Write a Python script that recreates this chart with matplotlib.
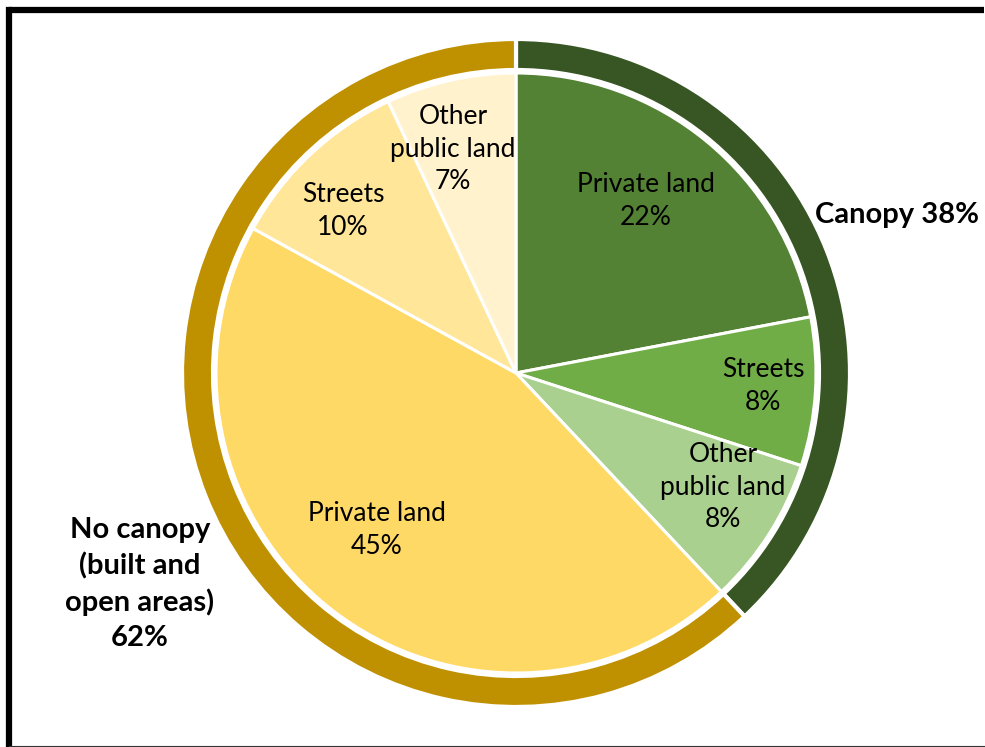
import matplotlib.pyplot as plt
from matplotlib.lines import Line2D

plt.rcParams.update(
    {
        "font.family": ["Lato", "DejaVu Sans"],
        "figure.dpi": 100,
        "savefig.dpi": 100,
    }
)

# outer ring: canopy vs no canopy
outer_labels = ["Canopy 38%", "No canopy\n(built and\nopen areas)\n62%"]
outer_values = [38, 62]
outer_colors = ["#375623", "#BF9000"]

# inner pie: land type within each group
inner_labels = [
    "Private land\n22%",
    "Streets\n8%",
    "Other\npublic land\n8%",
    "Private land\n45%",
    "Streets\n10%",
    "Other\npublic land\n7%",
]
inner_values = [22, 8, 8, 45, 10, 7]
inner_colors = ["#548235", "#70AD47", "#A9D08E", "#FFD966", "#FFE699", "#FFF2CC"]

W, H = 985, 747
fig = plt.figure(figsize=(W / 100, H / 100))
ax = fig.add_axes([0, 0, 1, 1])

center = (516, H - 373)

# outer ring
ax.pie(
    outer_values,
    colors=outer_colors,
    radius=334,
    center=center,
    startangle=90,
    counterclock=False,
    wedgeprops=dict(width=31, edgecolor="white", linewidth=3),
)
# inner pie
ax.pie(
    inner_values,
    colors=inner_colors,
    radius=300,
    center=center,
    startangle=90,
    counterclock=False,
    wedgeprops=dict(edgecolor="white", linewidth=2.2),
)
ax.set_xlim(0, W)
ax.set_ylim(0, H)
ax.set_aspect("auto")
ax.axis("off")

# inner labels (pixel positions from the top-left)
inner_pos = [(646, 201), (763, 386), (723, 487), (377, 530), (343, 211), (453, 149)]
for txt, (x, y) in zip(inner_labels, inner_pos):
    ax.text(x, H - y, txt, ha="center", va="center", fontsize=19, linespacing=1.38)

# outer labels
ax.text(897, H - 215, outer_labels[0], ha="center", va="center",
        fontsize=21, fontweight="bold")
ax.text(140, H - 584, outer_labels[1], ha="center", va="center",
        fontsize=21, fontweight="bold", linespacing=1.42)

# frame: thick on left and top, thin at the bottom, cut off on the right
fig.add_artist(Line2D([9, 9], [-10, H - 10], transform=None,
                      color="black", linewidth=4.5, solid_capstyle="projecting"))
fig.add_artist(Line2D([9, W - 1], [H - 10, H - 10], transform=None,
                      color="black", linewidth=4.5, solid_capstyle="butt"))
fig.add_artist(Line2D([9, W - 1], [0.6, 0.6], transform=None,
                      color="#333333", linewidth=0.8))

fig.savefig("out.png")
